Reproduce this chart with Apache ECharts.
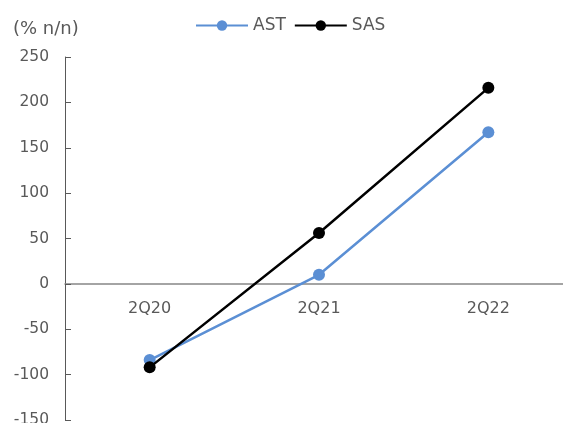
<!DOCTYPE html>
<html><head><meta charset="utf-8">
<script src="https://cdn.jsdelivr.net/npm/echarts@6/dist/echarts.min.js"></script>
<style>html,body{margin:0;padding:0;background:#fff}#c{width:563px;height:423px}</style>
</head><body><div id="c"></div>
<script>
const categories = ['2Q20', '2Q21', '2Q22'];
const astValues = [-84, 10, 167];
const sasValues = [-92, 56, 216];
const yTicks = [-150, -100, -50, 0, 50, 100, 150, 200, 250];
const unitLabel = '(% n/n)';

const FONT = 'DejaVu Sans';
const chart = echarts.init(document.getElementById('c'), null, {renderer: 'canvas'});
const option = {
  animation: false,
  backgroundColor: '#fff',
  textStyle: {fontFamily: FONT},
  graphic: [{type: 'text', left: 13, top: 20, style: {text: unitLabel, font: '18px "DejaVu Sans"', fill: '#595959'}}],
  legend: {
    top: 17, left: 195, padding: 0, itemGap: 8, itemWidth: 52, itemHeight: 13,
    textStyle: {fontSize: 17, color: '#595959', fontFamily: FONT},
    data: ['AST', 'SAS']
  },
  grid: {left: 65, right: -10, top: 57, bottom: 3, containLabel: false, outerBoundsMode: 'none'},
  xAxis: {
    type: 'category', data: categories, boundaryGap: true,
    axisLine: {onZero: false, lineStyle: {color: '#868686', width: 1.5}},
    axisTick: {inside: true, length: 6, lineStyle: {color: '#868686'}},
    axisLabel: {margin: 17, fontSize: 16, color: '#595959', fontFamily: FONT},
    splitLine: {show: false}
  },
  yAxis: {
    type: 'value', min: yTicks[0], max: yTicks[yTicks.length-1], interval: 50,
    axisLine: {show: true, lineStyle: {color: '#595959', width: 1}},
    axisTick: {show: true, inside: true, length: 6, lineStyle: {color: '#595959'}},
    axisLabel: {margin: 16, fontSize: 15.5, color: '#595959', fontFamily: FONT},
    splitLine: {show: false}
  },
  series: [
    {name: 'AST', type: 'line', data: astValues, symbol: 'circle', symbolSize: 12,
     lineStyle: {color: '#5b8fd4', width: 2.5}, itemStyle: {color: '#5b8fd4'}, z: 2},
    {name: 'SAS', type: 'line', data: sasValues, symbol: 'circle', symbolSize: 12,
     lineStyle: {color: '#000', width: 2.5}, itemStyle: {color: '#000'}, z: 3}
  ]
};
chart.setOption(option);
// place the category axis (line + labels) on the zero line
const zeroY = chart.convertToPixel({yAxisIndex: 0}, 0);
const bottomY = chart.convertToPixel({yAxisIndex: 0}, yTicks[0]);
chart.setOption({xAxis: {offset: -(bottomY - zeroY)}});
</script></body></html>
